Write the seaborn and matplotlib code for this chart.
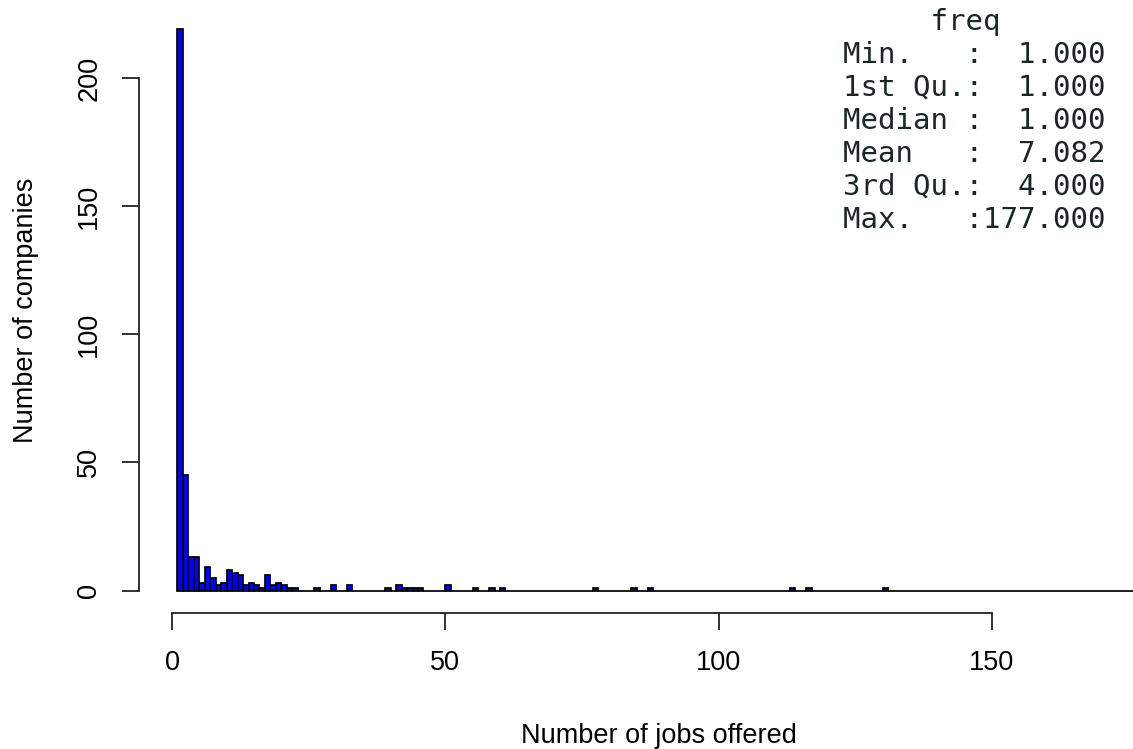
import numpy as np
import pandas as pd
import matplotlib
matplotlib.use("Agg")
import matplotlib.pyplot as plt
import seaborn as sns

# Number of companies per jobs-offered bin (bins of width 1 from 1 to 177)
bin_start = [1, 2, 3, 4, 5, 6, 7, 8, 9, 10, 11, 12, 13, 14, 15, 16, 17, 18, 19, 20,
             21, 22, 26, 29, 32, 39, 41, 42, 43, 44, 45, 50, 55, 58, 60, 77, 84, 87,
             113, 116, 130]
companies = [219, 45, 13, 13, 3, 9, 5, 2, 3, 8, 7, 6, 2, 3, 2, 1, 6, 2, 3, 2,
             1, 1, 1, 2, 2, 1, 2, 1, 1, 1, 1, 2, 1, 1, 1, 1, 1, 1,
             1, 1, 1]
break_lo, break_hi = 1, 177

x_ticks = [0, 50, 100, 150]
y_ticks = [0, 50, 100, 150, 200]

summary_title = "freq"
summary_lines = ["Min.   :  1.000",
                 "1st Qu.:  1.000",
                 "Median :  1.000",
                 "Mean   :  7.082",
                 "3rd Qu.:  4.000",
                 "Max.   :177.000"]

sns.set_style("ticks")
plt.rcParams["font.family"] = ["Liberation Sans", "DejaVu Sans"]

W, H = 1133, 749
fig = plt.figure(figsize=(W / 100, H / 100), dpi=100)
ax_left_px, ax_right_px = 139, 1178
ax = fig.add_axes([ax_left_px / W, 1 - 613 / H,
                   (ax_right_px - ax_left_px) / W, (613 - 7) / H])

df = pd.DataFrame({"jobs": np.array(bin_start, dtype=float) + 0.5,
                   "n": np.array(companies, dtype=float)})
sns.histplot(data=df, x="jobs", weights="n", binwidth=1,
             binrange=(break_lo, break_hi), color="blue",
             edgecolor="black", linewidth=1.25, alpha=1.0, ax=ax)

span = break_hi - break_lo
ax.set_xlim(break_lo - 0.04 * span, break_hi + 0.04 * span)
ymax = max(companies)
ax.set_ylim(-0.04 * ymax, 1.04 * ymax)

for s in ["top", "right"]:
    ax.spines[s].set_visible(False)
ax.spines["left"].set_bounds(y_ticks[0], y_ticks[-1])
ax.spines["bottom"].set_bounds(x_ticks[0], x_ticks[-1])
for s in ["left", "bottom"]:
    ax.spines[s].set_linewidth(1.3)
    ax.spines[s].set_color("#222222")

ax.set_xticks(x_ticks)
ax.set_yticks(y_ticks)
ax.set_yticklabels([str(v) for v in y_ticks], rotation=90, va="center")
ax.tick_params(axis="both", direction="out", length=12, width=1.3,
               color="#222222", labelcolor="black", labelsize=19.5)
ax.tick_params(axis="x", pad=14.5)
ax.tick_params(axis="y", pad=14.5)

ax.set_xlabel("Number of jobs offered", fontsize=19.5, color="black", labelpad=34)
ax.set_ylabel("Number of companies", fontsize=19.5, color="black")
ax.yaxis.set_label_coords((39 - ax_left_px) / (ax_right_px - ax_left_px), 0.5)

mono = ["DejaVu Sans Mono"]
x0 = 843 / W
fig.text(x0, 1 - 22 / H, "     " + summary_title, family=mono, fontsize=21,
         va="center", ha="left", color="#1c2626")
for i, line in enumerate(summary_lines):
    fig.text(x0, 1 - (55 + 33 * i) / H, line, family=mono, fontsize=21,
             va="center", ha="left", color="#1c2626")

fig.savefig("out.png", dpi=100)
